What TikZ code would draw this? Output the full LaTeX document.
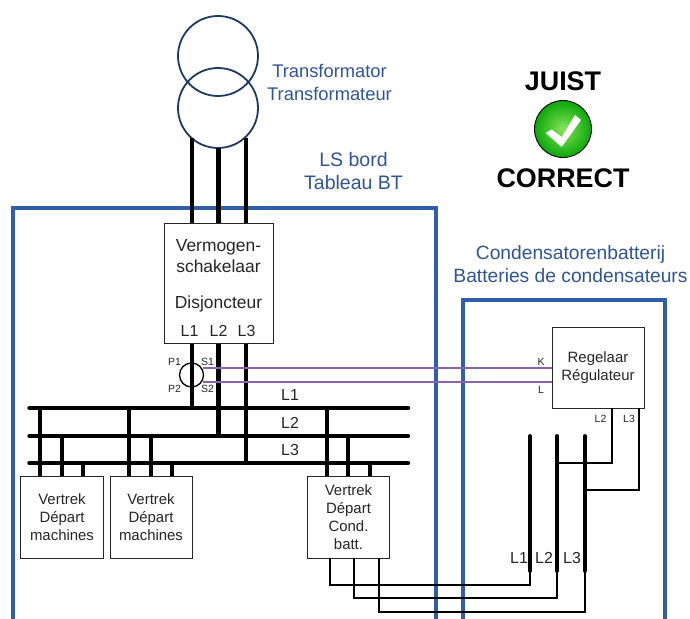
\documentclass[tikz,border=0pt]{standalone}
\usepackage{fontspec}
\setmainfont{Liberation Sans}
\definecolor{frameblue}{HTML}{2F5FA8}
\definecolor{labelblue}{HTML}{2F5597}
\definecolor{coilblue}{HTML}{1F3864}
\definecolor{sensor}{HTML}{8A63AE}
\definecolor{boxline}{HTML}{262626}
\definecolor{okinner}{HTML}{86E45A}
\definecolor{okouter}{HTML}{0AA80A}
\newcommand{\fsz}[1]{\fontsize{#1}{#1}\selectfont}
\tikzset{
  frame/.style={draw=frameblue,line width=4bp,line cap=butt,line join=miter},
  coil/.style={circle,draw=coilblue,line width=1.8bp,minimum size=80bp,inner sep=0pt},
  phase/.style={line width=4.6bp,black,line cap=butt},
  tap/.style={line width=4.2bp,black,line cap=butt},
  bus/.style={line width=4.4bp,black,line cap=round},
  rail/.style={line width=3.8bp,black,line cap=round},
  thin wire/.style={line width=1.2bp,black,line join=miter},
  sense/.style={line width=1.6bp,sensor},
  device/.style={draw=boxline,line width=1bp,fill=white,inner sep=0pt,align=center,text=boxline},
  blue label/.style={text=labelblue,align=center,inner sep=0pt},
  tag/.style={font=\fsz{10.5},text=boxline,inner sep=0pt},
  phasetag/.style={font=\fsz{16},text=boxline,inner sep=0pt},
  verdict/.style={font=\fsz{27}\bfseries,text=black,inner sep=0pt}
}
\begin{document}
\begin{tikzpicture}[x=1bp,y=-1bp]
\useasboundingbox (0,0) rectangle (690,619);
% frames
\coordinate (lsA) at (13,619); \coordinate (lsB) at (13,208);
\coordinate (lsC) at (436,208); \coordinate (lsD) at (436,619);
\draw[frame] (lsA) -- (lsB) -- (lsC) -- (lsD);
\coordinate (cbA) at (463,619); \coordinate (cbB) at (463,300);
\coordinate (cbC) at (665,300); \coordinate (cbD) at (665,619);
\draw[frame] (cbA) -- (cbB) -- (cbC) -- (cbD);
% transformer
\node[coil] (coilT) at (218,56) {};
\node[coil] (coilB) at (218,108) {};
\node[blue label,font=\fsz{18.4}] (tr) at (329.5,82.5) {Transformator\\[4.5pt]Transformateur};
\node[blue label,font=\fsz{19.6}] (ls) at (353.5,171) {LS bord\\[3.5pt]Tableau BT};
\node[blue label,font=\fsz{19.3}] (cb) at (570.5,264) {Condensatorenbatterij\\[3.5pt]Batteries de condensateurs};
% bus bars
\coordinate (b1w) at (29.5,408); \coordinate (b1e) at (408,408);
\coordinate (b2w) at (29.5,436); \coordinate (b2e) at (408,436);
\coordinate (b3w) at (29.5,463); \coordinate (b3e) at (408,463);
\draw[bus] (b1w) -- (b1e);
\draw[bus] (b2w) -- (b2e);
\draw[bus] (b3w) -- (b3e);
% devices
\node[device,minimum width=109bp,minimum height=119bp] (brk) at (218.5,283.5) {};
\node[device,minimum width=82bp,minimum height=82bp,font=\fsz{15}] (v1) at (62,517) {Vertrek\\[3pt]Départ\\[3pt]machines};
\node[device,minimum width=82bp,minimum height=82bp,font=\fsz{15}] (v2) at (151,517) {Vertrek\\[3pt]Départ\\[3pt]machines};
\node[device,minimum width=82bp,minimum height=82bp,font=\fsz{15}] (v3) at (348.5,517) {Vertrek\\[3pt]Départ\\[3pt]Cond.\\[3pt]batt.};
\node[device,minimum width=92bp,minimum height=81bp,font=\fsz{15}] (reg) at (598,367.5) {Regelaar\\[3pt]Régulateur};
\node[inner sep=0pt,align=center,font=\fsz{17.5},text=boxline] (brkA) at (218.5,256) {Vermogen-\\[4pt]schakelaar};
\node[inner sep=0pt,font=\fsz{17.5},text=boxline] (brkB) at (218.5,304) {Disjoncteur};
\node[phasetag] (pL1) at (189.5,331) {L1};
\node[phasetag] (pL2) at (218.5,331) {L2};
\node[phasetag] (pL3) at (246.5,331) {L3};
% phases transformer - breaker
\coordinate (pa) at (192,138); \coordinate (pb) at (218.6,148); \coordinate (pc) at (246,138);
\draw[phase] (pa) -- (pa |- brk.north);
\draw[phase] (pb) -- (pb |- brk.north);
\draw[phase] (pc) -- (pc |- brk.north);
\draw[phase] (pa |- brk.south) -- (pa |- b1w);
\draw[phase] (pb |- brk.south) -- (pb |- b2w);
\draw[phase] (pc |- brk.south) -- (pc |- b3w);
% current transformer
\node[circle,draw=black,line width=1.3bp,minimum size=24bp,inner sep=0pt] (ct) at (191.5,375) {};
\coordinate (s1) at (203,368); \coordinate (s2) at (203,382);
\draw[sense] (s1) -- (s1 -| reg.west);
\draw[sense] (s2) -- (s2 -| reg.west);
\node[tag] (p1) at (174.5,361.5) {P1};
\node[tag] (p2) at (174.5,389) {P2};
\node[tag] (t1) at (207.5,361.5) {S1};
\node[tag] (t2) at (207.5,389) {S2};
\node[tag] (k) at (541,361.5) {K};
\node[tag] (l) at (541,389.5) {L};
% taps
\foreach \bx/\xa/\xb/\xc in {v1/40/62/83,v2/129/151/172,v3/327/348/370}{
  \coordinate (ta) at (\xa,408); \coordinate (tb) at (\xb,436); \coordinate (tc) at (\xc,463);
  \draw[tap] (ta) -- (ta |- \bx.north);
  \draw[tap] (tb) -- (tb |- \bx.north);
  \draw[tap] (tc) -- (tc |- \bx.north);
}
\node[phasetag] (bL1) at (290,395.5) {L1};
\node[phasetag] (bL2) at (290,422.5) {L2};
\node[phasetag] (bL3) at (290,450.5) {L3};
% capacitor rails
\coordinate (r1t) at (530,436); \coordinate (r1b) at (530,571);
\coordinate (r2t) at (557,436); \coordinate (r2b) at (557,571);
\coordinate (r3t) at (585,436); \coordinate (r3b) at (585,571);
% wires
\coordinate (o1) at (330,558); \coordinate (o2) at (354,558); \coordinate (o3) at (379,558);
\coordinate (w1) at (530,585); \coordinate (w2) at (557,598); \coordinate (w3) at (585,612);
\draw[thin wire] (o1) |- (w1) -- (r1b);
\draw[thin wire] (o2) |- (w2) -- (r2b);
\draw[thin wire] (o3) |- (w3) -- (r3b);
\coordinate (c2) at (612,408); \coordinate (c3) at (639,408);
\coordinate (j2) at (557,463); \coordinate (j3) at (585,490);
\draw[thin wire] (c2) |- (j2);
\draw[thin wire] (c3) |- (j3);
\draw[rail] (r1t) -- (r1b);
\draw[rail] (r2t) -- (r2b);
\draw[rail] (r3t) -- (r3b);
\node[tag] (rL2) at (600.5,419) {L2};
\node[tag] (rL3) at (629,419) {L3};
\node[phasetag] (aL1) at (519,558) {L1};
\node[phasetag] (aL2) at (544,558) {L2};
\node[phasetag] (aL3) at (572,558) {L3};
% verdict
\node[verdict] (juist) at (563,81) {JUIST};
\node[verdict] (correct) at (563,178) {CORRECT};
\shade[inner color=okinner,outer color=okouter,draw=black,line width=0.9bp] (563,129) circle (28.5);
\fill[white] (545.7,133) -- (551.7,129.5) -- (561.7,137) -- (575,115) -- (581,120) -- (561.7,147) -- cycle;
\end{tikzpicture}
\end{document}
